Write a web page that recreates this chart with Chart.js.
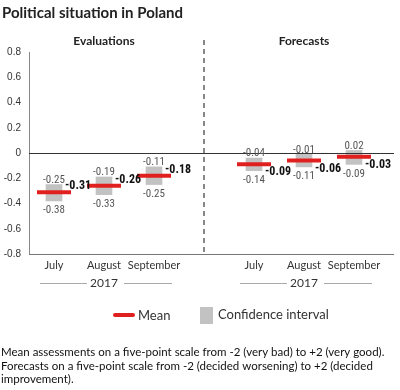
<!DOCTYPE html>
<html>
<head>
<meta charset="utf-8">
<script src="https://cdn.jsdelivr.net/npm/chart.js"></script>
<style>
  body { margin: 0; background: #fff; }
</style>
</head>
<body>
<canvas id="myChart" width="400" height="390"></canvas>
<script>
// chart data
const months = ["July", "August", "September"];
const groups = ["Evaluations", "Forecasts"];
const year = "2017";

const evalMean = [-0.31, -0.26, -0.18];
const evalLow = [-0.38, -0.33, -0.25];
const evalHigh = [-0.25, -0.19, -0.11];

const forecastMean = [-0.09, -0.06, -0.03];
const forecastLow = [-0.14, -0.11, -0.09];
const forecastHigh = [-0.04, -0.01, 0.02];

const yTicks = [0.8, 0.6, 0.4, 0.2, 0, -0.2, -0.4, -0.6, -0.8];

// one empty slot between the two groups
const labels = [...months, "", ...months];
const means = [...evalMean, null, ...forecastMean];
const lows = [...evalLow, null, ...forecastLow];
const highs = [...evalHigh, null, ...forecastHigh];
const intervals = lows.map((lo, i) => lo === null ? null : [lo, highs[i]]);

const RED = "#e0201e";
const GREY = "#c2c2c2";
const numFont = "'Liberation Sans Narrow', 'Roboto Condensed', Roboto, sans-serif";
const textFont = "Lato, 'Noto Sans', sans-serif";

function fmt(v) {
  return v.toFixed(2);
}

const extras = {
  id: "extras",
  afterDatasetsDraw(chart) {
    const ctx = chart.ctx;
    const x = chart.scales.x;
    const y = chart.scales.y;
    const area = chart.chartArea;
    const right = 394;

    ctx.save();
    // zero line and bottom line
    ctx.lineWidth = 1;
    ctx.strokeStyle = "#333";
    const y0 = Math.round(y.getPixelForValue(0)) + 0.5;
    ctx.beginPath(); ctx.moveTo(area.left, y0); ctx.lineTo(right, y0); ctx.stroke();
    ctx.strokeStyle = "#777";
    const yb = Math.round(area.bottom) + 0.5;
    ctx.beginPath(); ctx.moveTo(area.left, yb); ctx.lineTo(right, yb); ctx.stroke();

    // dashed divider
    const xd = x.getPixelForValue(3);
    ctx.strokeStyle = "#888";
    ctx.lineWidth = 2;
    ctx.setLineDash([5, 4]);
    ctx.beginPath(); ctx.moveTo(xd, 40); ctx.lineTo(xd, area.bottom); ctx.stroke();
    ctx.setLineDash([]);

    // value labels
    for (let i = 0; i < labels.length; i++) {
      if (means[i] === null) continue;
      const cx = x.getPixelForValue(i);
      const yh = y.getPixelForValue(highs[i]);
      const yl = y.getPixelForValue(lows[i]);
      const ym = y.getPixelForValue(means[i]);
      ctx.fillStyle = "#555";
      ctx.font = "11px " + numFont;
      ctx.textAlign = "center";
      ctx.textBaseline = "bottom";
      ctx.fillText(fmt(highs[i]), cx, yh + 1);
      ctx.textBaseline = "top";
      ctx.fillText(fmt(lows[i]), cx, yl + 4);
      ctx.fillStyle = "#111";
      ctx.font = "bold 12px " + numFont;
      ctx.textAlign = "left";
      ctx.textBaseline = "middle";
      const off = i < 3 ? -6 : 8;
      ctx.fillText(fmt(means[i]), cx + 11, ym + off);
    }

    // group headers and year rows
    [[0, 2], [4, 6]].forEach((g, k) => {
      const cx = (x.getPixelForValue(g[0]) + x.getPixelForValue(g[1])) / 2;
      ctx.fillStyle = "#222";
      ctx.font = "bold 12px " + textFont;
      ctx.textAlign = "center";
      ctx.textBaseline = "middle";
      ctx.fillText(groups[k], cx, 41);
      ctx.font = "12px " + textFont;
      ctx.fillStyle = "#333";
      ctx.fillText(year, cx, 283);
      ctx.strokeStyle = "#aaa";
      ctx.lineWidth = 1;
      ctx.beginPath();
      ctx.moveTo(cx - 64, 283.5); ctx.lineTo(cx - 17, 283.5);
      ctx.moveTo(cx + 20, 283.5); ctx.lineTo(cx + 68, 283.5);
      ctx.stroke();
    });

    // title
    ctx.fillStyle = "#222";
    ctx.font = "bold 15px " + textFont;
    ctx.textAlign = "left";
    ctx.textBaseline = "middle";
    ctx.fillText("Political situation in Poland", 2, 13);

    // legend
    ctx.strokeStyle = RED;
    ctx.lineWidth = 4;
    ctx.lineCap = "round";
    ctx.beginPath(); ctx.moveTo(115, 315); ctx.lineTo(133, 315); ctx.stroke();
    ctx.lineCap = "butt";
    ctx.fillStyle = GREY;
    ctx.fillRect(200, 307, 13, 17);
    ctx.fillStyle = "#333";
    ctx.font = "13px " + textFont;
    ctx.fillText("Mean", 138, 316);
    ctx.fillText("Confidence interval", 218, 315);

    // footnote
    ctx.fillStyle = "#111";
    ctx.font = "11.5px " + textFont;
    ctx.fillText("Mean assessments on a five-point scale from -2 (very bad) to +2 (very good).", 1, 352);
    ctx.fillText("Forecasts on a five-point scale from -2 (decided worsening) to +2 (decided", 1, 366);
    ctx.fillText("improvement).", 1, 379);
    ctx.restore();
  }
};

new Chart(document.getElementById("myChart"), {
  type: "bar",
  data: {
    labels: labels,
    datasets: [
      {
        type: "line",
        label: "Mean",
        data: means,
        showLine: false,
        pointStyle: "line",
        pointRadius: 17,
        pointBorderWidth: 4,
        pointBorderColor: RED,
        pointBackgroundColor: RED,
        order: 0
      },
      {
        label: "Confidence interval",
        data: intervals,
        backgroundColor: GREY,
        barThickness: 16,
        grouped: false,
        order: 1
      }
    ]
  },
  options: {
    responsive: false,
    animation: false,
    layout: { padding: { top: 52, right: 15, bottom: 0, left: 0 } },
    plugins: { legend: { display: false }, tooltip: { enabled: false } },
    scales: {
      x: {
        grid: { display: false, drawTicks: false },
        border: { display: false },
        ticks: {
          color: "#333",
          font: { family: textFont, size: 11 },
          padding: 5,
          maxRotation: 0,
          autoSkip: false
        },
        afterFit: s => { s.height = 136; }
      },
      y: {
        min: -0.8,
        max: 0.8,
        grid: { display: false, drawTicks: false },
        border: { display: true, color: "#888", width: 1 },
        afterBuildTicks: s => { s.ticks = yTicks.map(v => ({ value: v })); },
        ticks: {
          color: "#333",
          font: { family: "'Liberation Sans', Arial, sans-serif", size: 10 },
          padding: 8,
          callback: v => v === 0 ? "0" : (Math.round(v * 10) / 10).toFixed(1)
        },
        afterFit: s => { s.width = 29; }
      }
    }
  },
  plugins: [extras]
});
</script>
</body>
</html>
